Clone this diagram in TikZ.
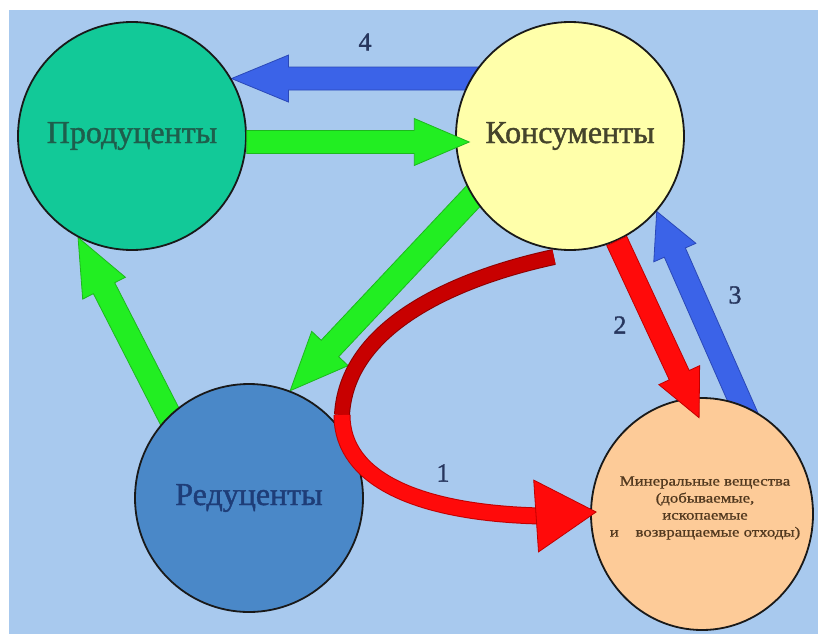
\documentclass[tikz,border=0pt]{standalone}
\usepackage{fontspec}
\setmainfont{Liberation Serif}
\newfontfamily\boldish[FakeBold=1.3]{Liberation Serif}
\newfontfamily\boldsmall[FakeBold=0.8]{Liberation Serif}
\usetikzlibrary{calc,shapes.geometric}
\pgfdeclarelayer{bg}
\pgfsetlayers{bg,main}
\definecolor{bgblue}{HTML}{A8C9EE}
\definecolor{prodfill}{HTML}{12C998}
\definecolor{consfill}{HTML}{FFFFAA}
\definecolor{redfill}{HTML}{4A88C8}
\definecolor{minfill}{HTML}{FDCB98}
\definecolor{prodtext}{HTML}{1E5E4C}
\definecolor{constext}{HTML}{45442C}
\definecolor{redtext}{HTML}{1E3D78}
\definecolor{mintext}{HTML}{52391F}
\definecolor{numtext}{HTML}{27365E}
\definecolor{grfill}{HTML}{22EE22}
\definecolor{grline}{HTML}{1DB81D}
\definecolor{blfill}{HTML}{3B63E8}
\definecolor{blline}{HTML}{2A48B8}
\definecolor{rdfill}{HTML}{FF0A0A}
\definecolor{rdline}{HTML}{C00000}
\definecolor{rddark}{HTML}{C80000}
\definecolor{rddarkline}{HTML}{8C0000}
% #1 style, #2 from, #3 to, #4 shaft half width, #5 head half width, #6 head length, #7 tail extension
\newcommand\blockarr[7]{%
  \coordinate (ba-s) at ($(#2)!-#7!(#3)$);
  \coordinate (ba-t) at (#3);
  \coordinate (ba-h) at ($(#3)!#6!(#2)$);
  \path[#1] ($(ba-s)!#4!90:(ba-t)$) -- ($(ba-h)!#4!90:(ba-t)$) -- ($(ba-h)!#5!90:(ba-t)$) -- (ba-t) -- ($(ba-h)!#5!-90:(ba-t)$) -- ($(ba-h)!#4!-90:(ba-t)$) -- ($(ba-s)!#4!-90:(ba-t)$) -- cycle;}
\begin{document}
\begin{tikzpicture}[x=1pt,y=-1pt,
  circ/.style={circle,draw=black!90,line width=1.8pt,minimum size=228pt,inner sep=0pt,font=\boldish\fontsize{32}{36}\selectfont},
  greenarr/.style={fill=grfill,draw=grline,line width=0.8pt,line join=miter},
  bluearr/.style={fill=blfill,draw=blline,line width=0.8pt,line join=miter},
  redarr/.style={fill=rdfill,draw=rdline,line width=0.8pt,line join=miter},
  num/.style={font=\boldish\fontsize{26}{30}\selectfont,text=numtext,inner sep=0pt},
  tubedark/.style={draw=rddarkline,double=rddark,double distance=14pt,line width=1pt},
  tubered/.style={draw=rdline,double=rdfill,double distance=15pt,line width=1pt}]
\useasboundingbox (0,0) rectangle (818,634);
\begin{pgfonlayer}{bg}
\fill[white] (0,0) rectangle (818,634);
\fill[bgblue] (9,10) rectangle (818,634);
\end{pgfonlayer}
\node[circ,fill=prodfill,text=prodtext] (prod) at (132,136) {\raisebox{-3pt}{Продуценты}};
\node[circ,fill=consfill,text=constext] (cons) at (570,136) {\raisebox{-3pt}{Консументы}};
\node[circ,fill=redfill,text=redtext] (redu) at (249,498) {\raisebox{-2pt}{Редуценты}};
\node[ellipse,draw=black!90,line width=1.8pt,minimum width=222pt,minimum height=232pt,inner sep=0pt,fill=minfill] (min) at (702,514) {};
\node[font=\boldsmall\fontsize{14}{17}\selectfont,text=mintext,align=center,inner sep=0pt] (mintxt) at ($(min.center)+(3,-6)$)
  {\scalebox{1.2}[1]{Минеральные вещества}\\\scalebox{1.2}[1]{(добываемые,}\\\scalebox{1.2}[1]{ископаемые}\\\scalebox{1.2}[1]{и\hspace{1em}возвращаемые отходы)}};
% arrows whose tails tuck under a circle
\begin{pgfonlayer}{bg}
\blockarr{bluearr}{cons.150}{prod.30}{11.5pt}{23.5pt}{57pt}{18pt}
\blockarr{greenarr}{cons.212}{redu.69}{12pt}{25pt}{58pt}{18pt}
\blockarr{greenarr}{redu.134}{prod.242}{12pt}{24pt}{57pt}{18pt}
\blockarr{bluearr}{min.70}{cons.-41}{11.5pt}{23pt}{45pt}{18pt}
\end{pgfonlayer}
% arrows whose heads lie over the target circle
\coordinate (gt) at ($(cons.183)!-14pt!(prod.-3)$);
\blockarr{greenarr}{prod.-3}{gt}{11.5pt}{23.5pt}{55pt}{0pt}
\coordinate (rt) at ($(min.96)!-22pt!(cons.-66)$);
\blockarr{redarr}{cons.-66}{rt}{11pt}{22.5pt}{47pt}{0pt}
% curved red arrow 1
\coordinate (r1s) at ($(cons.center)+(-16,121)$);
\coordinate (r1m) at (342,415);
\coordinate (r1t) at ($(min.west)+(6,-2)$);
\coordinate (r1h) at ($(r1t)+(-60,4)$);
\draw[tubedark,line cap=butt] (r1s) .. controls (470,275) and (347,320) .. (r1m);
\draw[tubered,line cap=butt] (r1m) .. controls (342,480) and (420,513) .. ($(r1h)+(4,0)$);
\path[redarr] ($(r1h)!36pt!90:(r1t)$) -- (r1t) -- ($(r1h)!36pt!-90:(r1t)$) -- cycle;
\node[num] (n4) at (365,42) {4};
\node[num] (n2) at (620,325) {2};
\node[num] (n3) at (735,295) {3};
\node[num] (n1) at (443,473) {1};
\end{tikzpicture}
\end{document}
